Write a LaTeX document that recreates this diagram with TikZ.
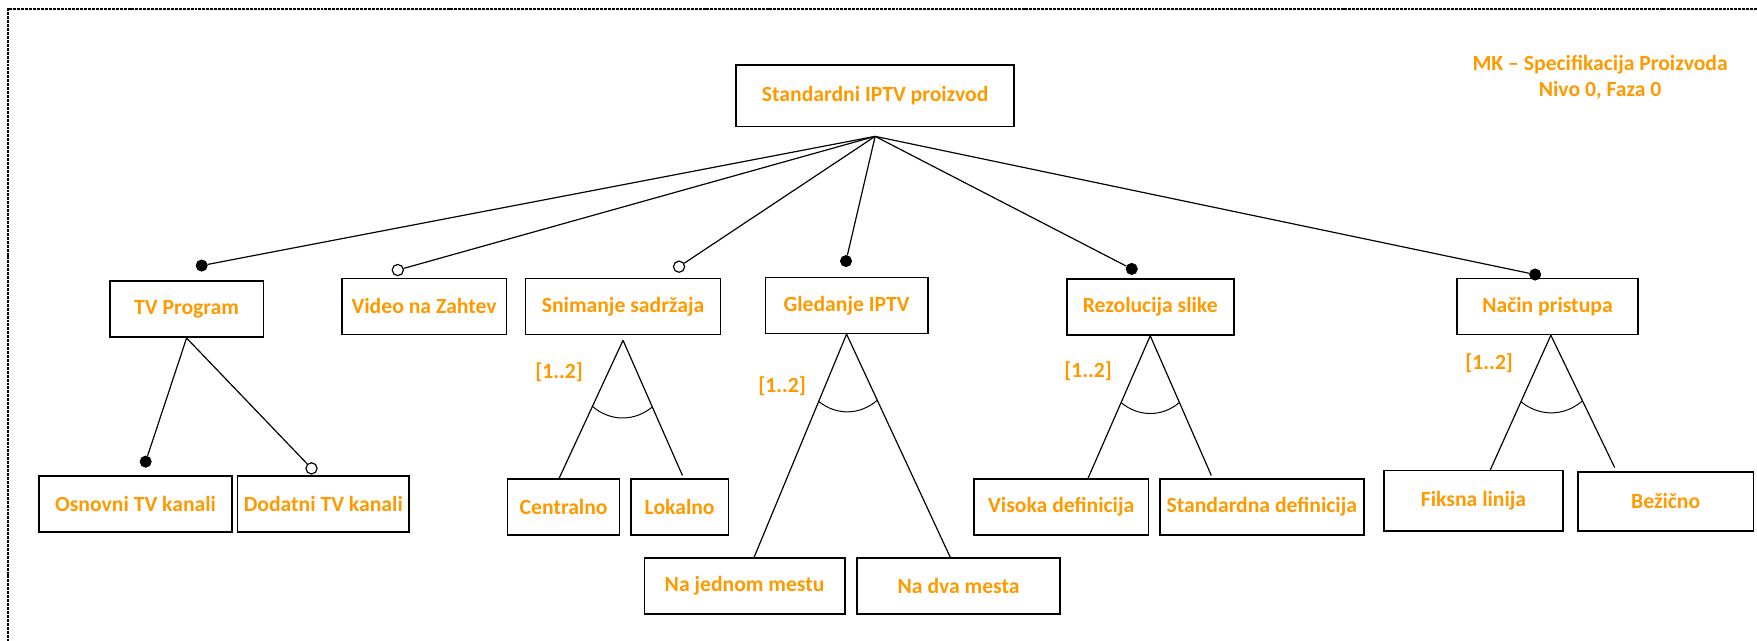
\documentclass[tikz,border=0pt]{standalone}
\usepackage{fontspec}
\setmainfont{Carlito}
\usetikzlibrary{positioning,calc}
\definecolor{featorange}{RGB}{255,153,0}
\tikzset{
  featbox/.style={draw,line width=.8pt,minimum height=1cm,inner sep=2pt,text=featorange,font=\bfseries\fontsize{11}{13}\selectfont},
  cardlbl/.style={text=featorange,font=\bfseries\fontsize{11}{13}\selectfont},
  mandot/.style={circle,draw,fill=black,inner sep=0pt,minimum size=.2cm},
  optdot/.style={circle,draw,fill=white,line width=.6pt,inner sep=0pt,minimum size=.2cm},
  link/.style={line width=.6pt},
  grp/.style={line width=.5pt}
}

\begin{document}
\begin{tikzpicture}
  \useasboundingbox (0,0) rectangle (31.36,11.44);
  \draw[line width=.8pt,dash pattern=on 1.5pt off .5pt] (31.36,11.28) -- (.14,11.28) -- (.14,0);

  \node[featbox,minimum width=4.96cm,minimum height=1.1cm] (root) at (15.62,9.73) {Standardni IPTV proizvod};
  \node[cardlbl,align=center] (title) at (28.56,10.06) {MK – Specifikacija Proizvoda\\Nivo 0, Faza 0};

  \node[featbox,minimum width=2.74cm] (tv) at (3.33,5.92) {TV Program};
  \node[featbox,minimum width=2.94cm] (vod) at (7.57,5.97) {Video na Zahtev};
  \node[featbox,minimum width=3.48cm] (snim) at (11.12,5.97) {Snimanje sadržaja};
  \node[featbox,minimum width=2.9cm] (gled) at (15.11,5.99) {Gledanje IPTV};
  \node[featbox,minimum width=2.98cm] (rez) at (20.53,5.96) {Rezolucija slike};
  \node[featbox,minimum width=3.24cm] (nac) at (27.62,5.97) {Način pristupa};

  \node[featbox,minimum width=3.44cm] (osn) at (2.42,2.44) {Osnovni TV kanali};
  \node[featbox,minimum width=3.06cm] (dod) at (5.77,2.44) {Dodatni TV kanali};
  \node[featbox,minimum width=2cm] (cen) at (10.06,2.39) {Centralno};
  \node[featbox,minimum width=1.74cm] (lok) at (12.13,2.39) {Lokalno};
  \node[featbox,minimum width=3.58cm] (jed) at (13.29,.98) {Na jednom mestu};
  \node[featbox,minimum width=3.62cm] (dva) at (17.11,.98) {Na dva mesta};
  \node[featbox,minimum width=3.12cm] (vis) at (18.94,2.39) {Visoka definicija};
  \node[featbox,minimum width=3.64cm] (std) at (22.52,2.39) {Standardna definicija};
  \node[featbox,minimum width=3.2cm,minimum height=1.08cm] (fik) at (26.3,2.5) {Fiksna linija};
  \node[featbox,minimum width=3.14cm,minimum height=1.06cm] (bez) at (29.73,2.49) {Bežično};

  \node[mandot] (dtv) at (3.6,6.7) {};
  \node[optdot] (dvod) at (7.1,6.62) {};
  \node[optdot] (dsnim) at (12.12,6.68) {};
  \node[mandot] (dgled) at (15.1,6.78) {};
  \node[mandot] (drez) at (20.2,6.64) {};
  \node[mandot] (dnac) at (27.4,6.54) {};
  \node[mandot] (dosn) at (2.6,3.2) {};
  \node[optdot] (ddod) at (5.56,3.08) {};

  \coordinate (rootpt) at ([yshift=-.16cm]root.south);
  \foreach \d in {dtv,dvod,dsnim,dgled,drez,dnac}
    \draw[link] (rootpt) -- (\d);
  \draw[link] (tv.south) -- (dosn);
  \draw[link] (tv.south) -- (ddod);

  \coordinate (asnim) at ([yshift=-.09cm]snim.south);
  \coordinate (agled) at (gled.south);
  \coordinate (arez) at (rez.south);
  \coordinate (anac) at ([xshift=.06cm]nac.south);
  \coordinate (ecen) at ([xshift=-.08cm]cen.north);
  \coordinate (elok) at ([xshift=.05cm,yshift=.05cm]lok.north);
  \coordinate (ejed) at ([xshift=.17cm]jed.north);
  \coordinate (edva) at ([xshift=-.15cm]dva.north);
  \coordinate (evis) at ([xshift=.48cm]vis.north);
  \coordinate (estd) at ([xshift=-.9cm,yshift=.05cm]std.north);
  \coordinate (efik) at ([xshift=.3cm]fik.north);
  \coordinate (ebez) at ([xshift=-.91cm,yshift=.06cm]bez.north);

  \foreach \a/\l/\r in {asnim/ecen/elok,agled/ejed/edva,arez/evis/estd,anac/efik/ebez}{
    \draw[link] (\a) -- (\l) (\a) -- (\r);
    \draw[grp] ($(\a)!1.3cm!(\l)$) to[bend right=40] ($(\a)!1.3cm!(\r)$);
  }

  \node[cardlbl] (csnim) at (9.98,4.8) {[1..2]};
  \node[cardlbl] (cgled) at (13.96,4.54) {[1..2]};
  \node[cardlbl] (crez) at (19.42,4.82) {[1..2]};
  \node[cardlbl] (cnac) at (26.58,4.96) {[1..2]};
\end{tikzpicture}
\end{document}
